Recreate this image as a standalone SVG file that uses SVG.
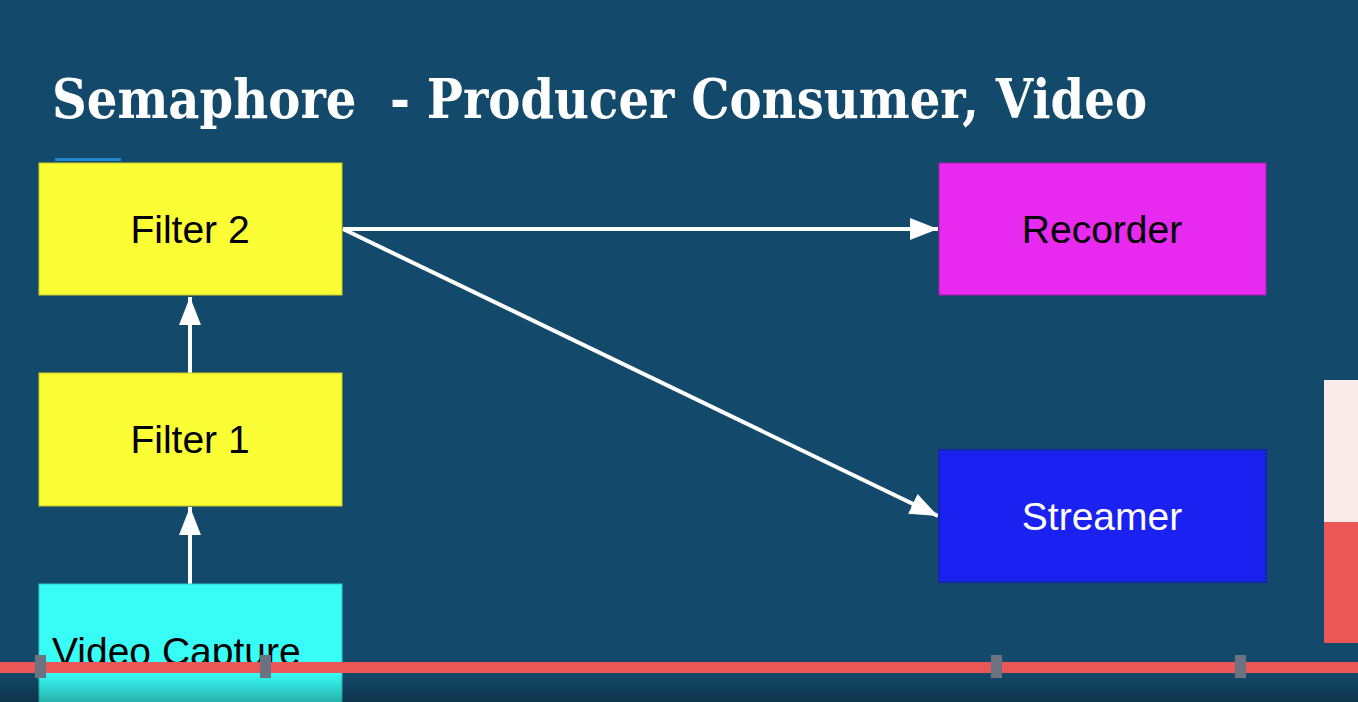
<svg xmlns="http://www.w3.org/2000/svg" width="1358" height="702" viewBox="0 0 1358 702">
  <style>
    .node-label { font-family: "Liberation Sans", Arial, sans-serif; font-size: 39px; }
    .title { font-family: "DejaVu Serif", "Liberation Serif", serif; font-weight: bold; font-size: 54px; fill: #ffffff; white-space: pre; }
    .conn { stroke: #ffffff; stroke-width: 4; fill: none; }
    .handle { fill: #6b7280; }
  </style>
  <defs>
    <marker id="arrow" markerUnits="userSpaceOnUse" markerWidth="30" markerHeight="24" refX="28" refY="12" orient="auto">
      <path d="M0,1 L28,12 L0,23 Z" fill="#ffffff"/>
    </marker>
    <linearGradient id="shade" x1="0" y1="0" x2="0" y2="1">
      <stop offset="0" stop-color="#000000" stop-opacity="0"/>
      <stop offset="1" stop-color="#000000" stop-opacity="0.3"/>
    </linearGradient>
  </defs>

  <rect x="0" y="0" width="1358" height="702" fill="#134a6b"/>

  <text class="title" x="52" y="118" textLength="1095" lengthAdjust="spacingAndGlyphs" xml:space="preserve">Semaphore  - Producer Consumer, Video</text>
  <rect x="55" y="158" width="66" height="3" fill="#1e88c8"/>

  <g id="connectors">
    <line class="conn" x1="190" y1="373" x2="190" y2="297" marker-end="url(#arrow)"/>
    <line class="conn" x1="190" y1="584" x2="190" y2="507" marker-end="url(#arrow)"/>
    <line class="conn" x1="343" y1="229" x2="938" y2="229" marker-end="url(#arrow)"/>
    <line class="conn" x1="343" y1="229" x2="938" y2="516" marker-end="url(#arrow)"/>
  </g>

  <g id="filter2">
    <rect x="39" y="163" width="303" height="132" fill="#fbfd35" stroke="#c9cb2a" stroke-width="1"/>
    <text class="node-label" x="190" y="243" text-anchor="middle" fill="#000000">Filter 2</text>
  </g>
  <g id="filter1">
    <rect x="39" y="373" width="303" height="133" fill="#fbfd35" stroke="#c9cb2a" stroke-width="1"/>
    <text class="node-label" x="190" y="453" text-anchor="middle" fill="#000000">Filter 1</text>
  </g>
  <g id="video-capture">
    <rect x="39" y="584" width="303" height="130" fill="#38fdf7" stroke="#2cc9c5" stroke-width="1"/>
    <text class="node-label" x="52" y="665" fill="#000000">Video Capture</text>
  </g>
  <g id="recorder">
    <rect x="939" y="163" width="327" height="132" fill="#e82af0" stroke="#a61eab" stroke-width="1"/>
    <text class="node-label" x="1102" y="243" text-anchor="middle" fill="#000000">Recorder</text>
  </g>
  <g id="streamer">
    <rect x="939" y="450" width="327" height="132" fill="#1a21f0" stroke="#1326b0" stroke-width="2"/>
    <text class="node-label" x="1102" y="530" text-anchor="middle" fill="#ffffff">Streamer</text>
  </g>

  <rect x="1324" y="380" width="34" height="142" fill="#f9ebea"/>
  <rect x="1324" y="522" width="34" height="121" fill="#eb5757"/>

  <rect x="0" y="673" width="1358" height="29" fill="url(#shade)"/>
  <rect x="0" y="662" width="1358" height="11" fill="#eb5757"/>
  <rect class="handle" x="35" y="655" width="11" height="23"/>
  <rect class="handle" x="260" y="655" width="11" height="23"/>
  <rect class="handle" x="991" y="655" width="11" height="23"/>
  <rect class="handle" x="1235" y="655" width="11" height="23"/>
</svg>
